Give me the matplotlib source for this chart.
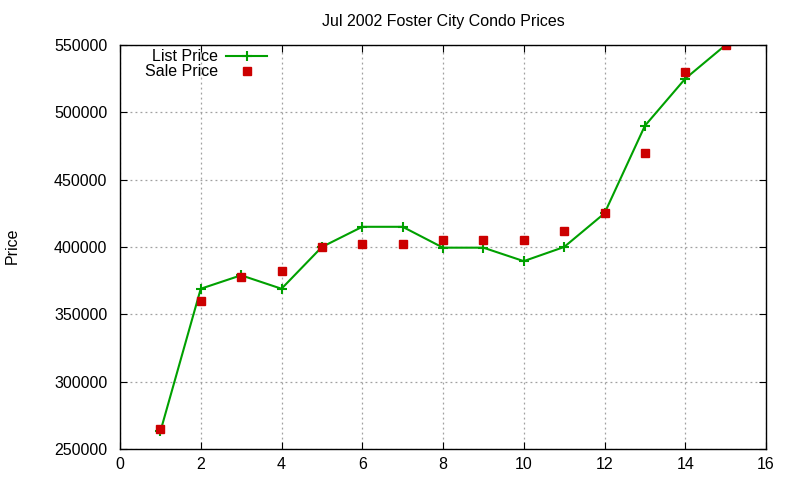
from matplotlib import pyplot as plt
from matplotlib import rcParams

months = [1, 2, 3, 4, 5, 6, 7, 8, 9, 10, 11, 12, 13, 14, 15]
list_price = [263000, 369000, 379000, 369000, 400000, 415000, 415000, 399500,
              399500, 389500, 400000, 425000, 490000, 525000, 550000]
sale_price = [265000, 360000, 378000, 382500, 400000, 402500, 402500, 405000,
              405000, 405000, 412000, 425000, 470000, 530000, 550000]

rcParams["font.family"] = ["Liberation Sans", "DejaVu Sans"]
rcParams["font.size"] = 11.5

fig = plt.figure(figsize=(8, 4.8), dpi=100)
ax = fig.add_axes([0.15, 1 - 449 / 480, (766 - 120) / 800, (449 - 45) / 480])

ax.plot(months, list_price, color='#00a000', linewidth=1.5, marker='+',
        markersize=7, markeredgewidth=1.5, label='List Price')
ax.plot(months, sale_price, linestyle='', marker='s', color='#cc0000',
        markersize=6, label='Sale Price')

ax.set_xlim(0, 16)
ax.set_ylim(250000, 550000)
ax.set_xticks(range(0, 17, 2))
ax.set_yticks(range(250000, 550001, 50000))
ax.tick_params(direction='in', top=True, right=True, length=5, width=0.8)
ax.tick_params(axis='y', pad=9)
ax.tick_params(axis='x', pad=6)
ax.grid(True, linestyle=(0, (1.5, 2.5)), color='#a0a0a0', linewidth=0.9)
for s in ax.spines.values():
    s.set_linewidth(1)

ax.set_title('Jul 2002 Foster City Condo Prices', fontsize=11.5, pad=14)
fig.text(12 / 800, 1 - 246 / 480, 'Price', rotation=90, ha='center', va='center')

ax.legend(loc='upper right', bbox_to_anchor=(0.238, 1.005), frameon=False,
          markerfirst=False, handlelength=2.6, handletextpad=0.5,
          labelspacing=0.0, borderaxespad=0.0)

plt.savefig('out.png', dpi=100)
